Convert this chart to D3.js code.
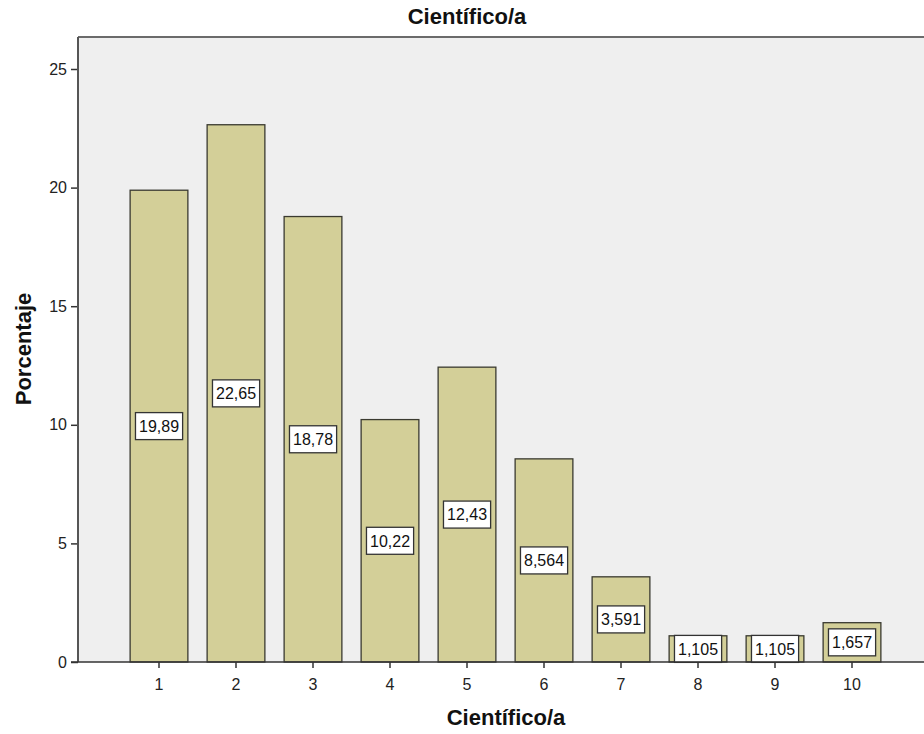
<!DOCTYPE HTML>
<html>
<head>
<meta charset="utf-8">
<title>Científico/a</title>
<script src="https://d3js.org/d3.v7.min.js"></script>
<style>
body { margin: 0; background: #fff; }
svg { display: block; font-family: "Liberation Sans", Arial, sans-serif; }
</style>
</head>
<body>
<div id="chart"></div>
<script>
const categories = ["1", "2", "3", "4", "5", "6", "7", "8", "9", "10"];
const values = [19.89, 22.65, 18.78, 10.22, 12.43, 8.564, 3.591, 1.105, 1.105, 1.657];
const labels = ["19,89", "22,65", "18,78", "10,22", "12,43", "8,564", "3,591", "1,105", "1,105", "1,657"];
const yTicks = [0, 5, 10, 15, 20, 25];

const width = 924, height = 734;
const plot = {left: 78, top: 37, right: 940, bottom: 662};
const font = "Liberation Sans, Arial, sans-serif";

const svg = d3.select("#chart").append("svg")
    .attr("width", width)
    .attr("height", height);

const x = d3.scaleBand()
    .domain(categories)
    .range([120.5, 890.5])
    .paddingInner(0.25)
    .paddingOuter(0.125);

const y = d3.scaleLinear()
    .domain([0, 25])
    .range([plot.bottom, 69]);

// plot background
svg.append("rect")
    .attr("x", plot.left)
    .attr("y", plot.top)
    .attr("width", plot.right - plot.left)
    .attr("height", plot.bottom - plot.top)
    .attr("fill", "#efefef");

svg.append("line")
    .attr("x1", plot.left).attr("x2", plot.right)
    .attr("y1", plot.top).attr("y2", plot.top)
    .attr("stroke", "#6b6b6b").attr("stroke-width", 2);

// bars
svg.append("g")
  .selectAll("rect")
  .data(values)
  .join("rect")
    .attr("x", (d, i) => x(categories[i]))
    .attr("y", d => y(d))
    .attr("width", x.bandwidth())
    .attr("height", d => y(0) - y(d))
    .attr("fill", "#d3cf98")
    .attr("stroke", "#3a3a30")
    .attr("stroke-width", 1.3);

// value labels
const lab = svg.append("g")
  .selectAll("g")
  .data(values)
  .join("g")
    .attr("transform", (d, i) => `translate(${x(categories[i]) + x.bandwidth() / 2},${y(d / 2)})`);

lab.append("text")
    .attr("text-anchor", "middle")
    .attr("dy", "0.36em")
    .attr("font-size", 16)
    .attr("fill", "#111")
    .text((d, i) => labels[i]);

lab.each(function() {
  const g = d3.select(this);
  const bb = g.select("text").node().getBBox();
  g.insert("rect", "text")
      .attr("x", bb.x - 3.5)
      .attr("y", -13.5)
      .attr("width", bb.width + 7)
      .attr("height", 27)
      .attr("fill", "#fff")
      .attr("stroke", "#333")
      .attr("stroke-width", 1.3);
});

// y axis
const yAxis = svg.append("g")
    .attr("transform", `translate(${plot.left},0)`)
    .call(d3.axisLeft(y).tickValues(yTicks).tickSize(7).tickSizeOuter(0));
yAxis.select(".domain").remove();
yAxis.selectAll(".tick line").attr("stroke", "#333").attr("stroke-width", 1.5);
yAxis.selectAll(".tick text").attr("font-size", 16).attr("fill", "#222")
    .attr("font-family", font).attr("x", -11);

svg.append("line")
    .attr("x1", plot.left).attr("x2", plot.left)
    .attr("y1", plot.top).attr("y2", plot.bottom)
    .attr("stroke", "#555").attr("stroke-width", 2);

// x axis
const xAxis = svg.append("g")
    .attr("transform", `translate(0,${plot.bottom})`)
    .call(d3.axisBottom(x).tickSize(6).tickSizeOuter(0));
xAxis.select(".domain").remove();
xAxis.selectAll(".tick line").attr("stroke", "#333").attr("stroke-width", 1.5);
xAxis.selectAll(".tick text").attr("font-size", 16).attr("fill", "#222")
    .attr("font-family", font).attr("y", 17);

svg.append("line")
    .attr("x1", plot.left - 7).attr("x2", plot.right)
    .attr("y1", plot.bottom).attr("y2", plot.bottom)
    .attr("stroke", "#333").attr("stroke-width", 1.5);

// titles
svg.append("text")
    .attr("x", 467).attr("y", 24)
    .attr("text-anchor", "middle")
    .attr("font-size", 22).attr("font-weight", "bold").attr("fill", "#111")
    .text("Científico/a");

svg.append("text")
    .attr("x", 506).attr("y", 725)
    .attr("text-anchor", "middle")
    .attr("font-size", 22).attr("font-weight", "bold").attr("fill", "#111")
    .text("Científico/a");

svg.append("text")
    .attr("transform", "translate(31,349) rotate(-90)")
    .attr("text-anchor", "middle")
    .attr("font-size", 22).attr("font-weight", "bold").attr("fill", "#111")
    .text("Porcentaje");
</script>
</body>
</html>
